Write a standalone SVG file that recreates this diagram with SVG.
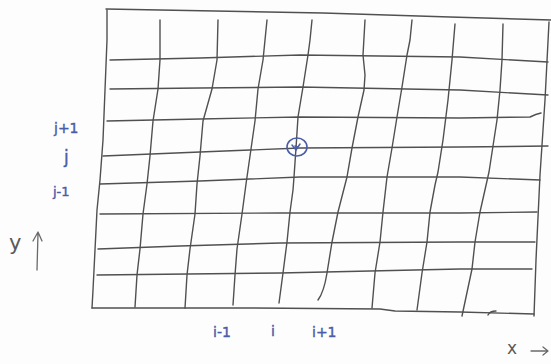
<svg xmlns="http://www.w3.org/2000/svg" width="551" height="364" viewBox="0 0 551 364">
<defs>
<style>
.g{fill:none;stroke:#505050;stroke-width:1.4;stroke-linecap:round;stroke-linejoin:round}
.b{fill:#4b5ca8;stroke:#4b5ca8;stroke-width:0.4;font-family:"DejaVu Sans","Liberation Sans",sans-serif}
.ax{fill:none;stroke:#6a6a6a;stroke-width:1.3;stroke-linecap:round;stroke-linejoin:round}
</style>
</defs>
<rect width="551" height="364" fill="#fdfdfd"/>
<g id="frame">
<path class="g" d="M106,9 L160,10 L323,13 L450,17 L551,20"/>
<path class="g" d="M107,10 L107,40 L103,140 L100,180 L97,210 L93,290 L92,308"/>
<path class="g" d="M92,308 L250,308 L380,309 L395,311 L460,312 L534,314"/>
<path class="g" d="M488,315 Q490,311 496,311"/>
<path class="g" d="M549,22 L545,100 L540,175 L536,260 L534,316"/>
</g>
<g id="horizontal-lines">
<path class="g" d="M110,60 L200,58 L300,55 L460,57 L548,62"/>
<path class="g" d="M110,89 L200,88 L300,87 L460,90 L548,95"/>
<path class="g" d="M107,121 L200,119 L300,117 L460,118 L530,117 Q536,114 541,113"/>
<path class="g" d="M103,156 L200,152 L300,148 L460,147 L548,146"/>
<path class="g" d="M100,184 L200,181 L300,177 L460,177 L540,180"/>
<path class="g" d="M100,214 L280,213 L460,213 L537,212"/>
<path class="g" d="M98,249 L180,246 L280,243 L460,242 L535,242"/>
<path class="g" d="M97,275 L280,273 L460,269 L532,269"/>
</g>
<g id="vertical-lines">
<path class="g" d="M160,20 L160,60 L158,89 L153,121 L150,156 L147,184 L143,214 L140,249 L137,275 L135,307"/>
<path class="g" d="M218,20 L217,60 L212,89 L203,121 L200,156 L197,184 L195,214 L190,249 L187,275 L185,308"/>
<path class="g" d="M267,20 L263,60 L258,89 L255,121 L250,156 L246,184 L242,214 L237,249 L235,275 L233,305"/>
<path class="g" d="M312,20 L310,40 L308,55 L303,87 L298,117 L296,148 L294,177 L293,190 L290,212 L287,242 L283,273 L279,303"/>
<path class="g" d="M365,20 L363,55 L365,75 L364,90 L358,117 L352,148 L347,177 L338,212 L332,242 L327,273 Q324,292 318,300"/>
<path class="g" d="M412,20 L410,40 L407,55 L402,87 L397,117 L392,148 L387,177 L383,212 L380,242 L375,273 L372,308"/>
<path class="g" d="M455,24 L452,60 L448,100 L443,140 L438,172 L435,185 L430,212 L427,242 L422,273 L417,310"/>
<path class="g" d="M503,24 L502,60 L500,90 L497,120 L493,146 L489,172 L480,212 L475,242 L472,269 L462,316"/>
</g>
<g id="point">
<ellipse cx="297" cy="147" rx="10" ry="9" fill="none" stroke="#4b5ca8" stroke-width="1.6"/>
<path d="M292,145 L296,150 L300,144 M295,146 L298,147" fill="none" stroke="#4b5ca8" stroke-width="1.5" stroke-linecap="round"/>
</g>
<g id="labels">
<text class="b" x="54" y="133" font-size="14">j+1</text>
<text class="b" x="64" y="163" font-size="17">j</text>
<text class="b" x="53" y="196" font-size="13">j-1</text>
<text class="b" x="213" y="337" font-size="14">i-1</text>
<text class="b" x="271" y="336" font-size="14">i</text>
<text class="b" x="312" y="337" font-size="14">i+1</text>
</g>
<g id="axes">
<text x="9" y="250" font-size="21" fill="#5a5a5a" font-family="DejaVu Sans, sans-serif">y</text>
<path class="ax" d="M37,270 L38,233 M33,241 L38,232 L42,241"/>
<text x="507" y="354" font-size="17" fill="#5a5a5a" font-family="DejaVu Sans, sans-serif">x</text>
<path class="ax" d="M531,351 L548,351 M543,347 L548,351 L543,355"/>
</g>
</svg>
